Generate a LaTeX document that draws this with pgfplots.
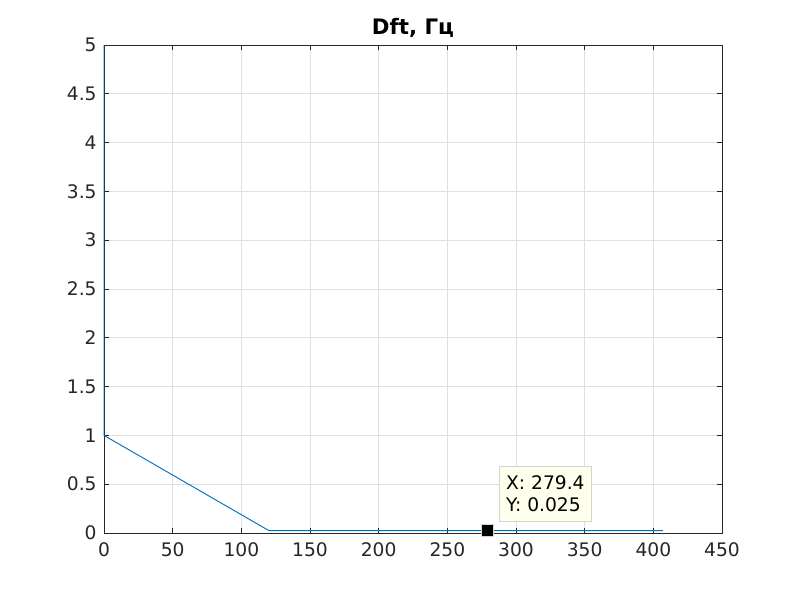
\documentclass[border=0pt]{standalone}
\usepackage{pgfplots}
\pgfplotsset{compat=1.18}
\usepackage{fontspec}
\setmainfont{DejaVu Sans}
\definecolor{mblue}{rgb}{0,0.447,0.741}
\definecolor{axgray}{gray}{0.15}
\definecolor{tipfill}{RGB}{255,255,238}
\definecolor{tipedge}{RGB}{214,214,200}
\begin{document}
\begin{tikzpicture}
\begin{axis}[
  set layers=standard,
  scale only axis, width=463.5pt, height=366pt,
  xmin=0, xmax=450, ymin=0, ymax=5,
  xtick={0,50,100,150,200,250,300,350,400,450},
  ytick={0,0.5,1,1.5,2,2.5,3,3.5,4,4.5,5},
  yticklabels={0,0.5,1,1.5,2,2.5,3,3.5,4,4.5,5},
  /pgf/number format/assume math mode=true,
  tick label style={font=\fontsize{14}{16}\selectfont, text=axgray},
  tick align=inside, major tick length=3.75pt,
  tick style={axgray, line width=0.5pt},
  axis line style={axgray, line width=0.5pt},
  grid=major, grid style={gray!25, line width=0.5pt},
  title={\textbf{Dft, Гц}},
  title style={font=\fontsize{16}{18}\selectfont, yshift=-4pt},
  xticklabel style={yshift=-4pt},
  yticklabel style={xshift=-2pt},
  clip=false,
]
\coordinate (ll) at (rel axis cs:0,0);
\addplot[mblue, line width=0.7pt] coordinates {(0,5) (0,1) (120,0.025) (407,0.025)};
\addplot[only marks, mark=square*, mark size=4.5pt, mark options={fill=black, draw=tipedge}] coordinates {(279.4,0.025)};
\node[draw=tipedge, fill=tipfill, anchor=north west, align=left, inner xsep=3pt, inner ysep=3pt,
      font=\fontsize{14}{16.5}\selectfont, minimum width=69pt, minimum height=41pt, text=black]
  at (axis cs:287.7,0.686) {X: 279.4\\Y: 0.025};
\end{axis}
\path (ll) ++(-78pt,-50.25pt) rectangle ++(600pt,450pt);
\end{tikzpicture}
\end{document}
